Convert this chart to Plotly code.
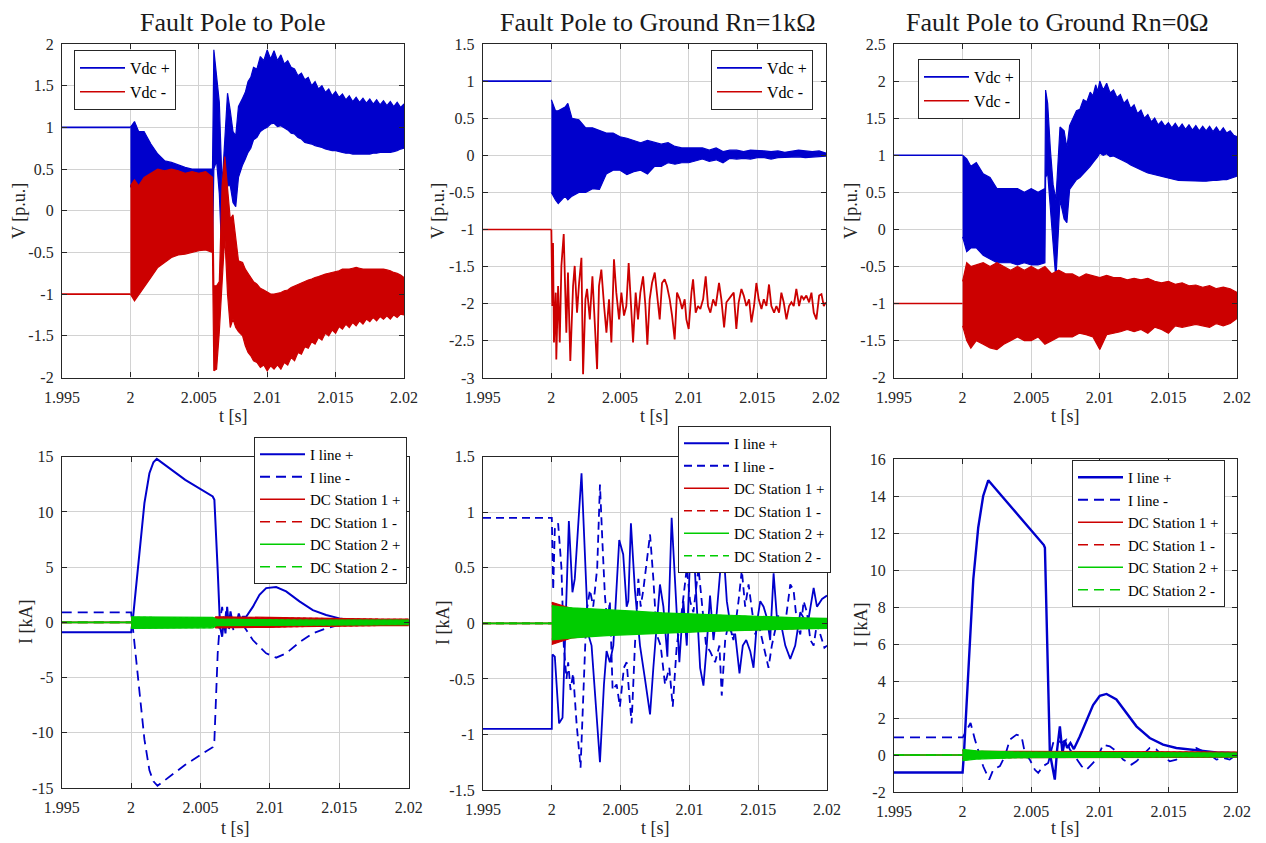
import plotly.graph_objects as go

# ============================ DATA ============================
T0 = 2.0                      # fault instant [s]
T_PRE = 1.995                 # start of the plotted window [s]
X_TICKS = [1.995, 2.0, 2.005, 2.01, 2.015, 2.02]
X_TICK_TEXT = ["1.995", "2", "2.005", "2.01", "2.015", "2.02"]

TITLES = ["Fault Pole to Pole", "Fault Pole to Ground Rn=1kΩ", "Fault Pole to Ground Rn=0Ω"]

Y1_TICKS = [-2, -1.5, -1, -0.5, 0, 0.5, 1, 1.5, 2]
Y1_TEXT = ["-2", "-1.5", "-1", "-0.5", "0", "0.5", "1", "1.5", "2"]
Y2_TICKS = [-3, -2.5, -2, -1.5, -1, -0.5, 0, 0.5, 1, 1.5]
Y2_TEXT = ["-3", "-2.5", "-2", "-1.5", "-1", "-0.5", "0", "0.5", "1", "1.5"]
Y3_TICKS = [-2, -1.5, -1, -0.5, 0, 0.5, 1, 1.5, 2, 2.5]
Y3_TEXT = ["-2", "-1.5", "-1", "-0.5", "0", "0.5", "1", "1.5", "2", "2.5"]
Y4_TICKS = [-15, -10, -5, 0, 5, 10, 15]
Y4_TEXT = ["-15", "-10", "-5", "0", "5", "10", "15"]
Y5_TICKS = [-1.5, -1, -0.5, 0, 0.5, 1, 1.5]
Y5_TEXT = ["-1.5", "-1", "-0.5", "0", "0.5", "1", "1.5"]
Y6_TICKS = [-2, 0, 2, 4, 6, 8, 10, 12, 14, 16]
Y6_TEXT = ["-2", "0", "2", "4", "6", "8", "10", "12", "14", "16"]

# pre-fault steady values
VPOS_PRE = 1.0
VNEG_PRE = -1.0
STATION_PRE = 0.0

# ---- Panel 1 (pole to pole) : envelopes of the dense ripple (ms after fault, upper, lower) [p.u.]
P1_VPOS = [(0, 1.0, 0.3), (0.3, 1.07, 0.2), (0.6, 0.95, 0.05), (1.0, 0.95, -0.1), (1.5, 0.8, -0.3),
           (2.0, 0.68, -0.4), (2.5, 0.6, -0.45), (3.0, 0.58, -0.45), (3.5, 0.55, -0.45), (4.0, 0.52, -0.45),
           (4.5, 0.5, -0.45), (5.0, 0.5, -0.45), (5.5, 0.5, -0.45), (6.0, 0.5, -0.45), (6.1, 1.93, 0.5),
           (6.3, 1.6, 0.6), (6.5, 1.3, 0.2), (6.7, 0.3, -0.6), (6.9, 0.9, -0.3), (7.1, 1.41, 0.3),
           (7.3, 1.2, 0.3), (7.5, 0.95, 0.1), (7.7, 0.9, 0.05), (7.9, 1.25, 0.4), (8.2, 1.35, 0.55),
           (8.4, 1.42, 0.62), (8.6, 1.55, 0.7), (8.8, 1.6, 0.75), (9.0, 1.72, 0.85), (9.25, 1.7, 0.88),
           (9.5, 1.85, 0.95), (9.75, 1.8, 0.98), (10.0, 1.93, 1.0), (10.25, 1.82, 1.04), (10.5, 1.92, 1.05),
           (10.75, 1.8, 1.01), (11.0, 1.87, 1.02), (11.25, 1.76, 0.99), (11.5, 1.8, 0.97), (11.75, 1.72, 0.93),
           (12.0, 1.7, 0.92), (12.25, 1.62, 0.88), (12.5, 1.65, 0.86), (12.75, 1.57, 0.82), (13.0, 1.6, 0.81),
           (13.25, 1.5, 0.8), (13.5, 1.55, 0.78), (13.75, 1.46, 0.77), (14.0, 1.5, 0.76), (14.25, 1.42, 0.74),
           (14.5, 1.46, 0.73), (14.75, 1.38, 0.72), (15.0, 1.43, 0.72), (15.25, 1.36, 0.71), (15.5, 1.4, 0.7),
           (15.75, 1.33, 0.69), (16.0, 1.38, 0.69), (16.25, 1.31, 0.68), (16.5, 1.36, 0.68), (16.75, 1.3, 0.68),
           (17.0, 1.35, 0.68), (17.25, 1.29, 0.68), (17.5, 1.34, 0.68), (17.75, 1.28, 0.69), (18.0, 1.33, 0.69),
           (18.25, 1.27, 0.7), (18.5, 1.32, 0.7), (18.75, 1.26, 0.7), (19.0, 1.31, 0.7), (19.25, 1.25, 0.71),
           (19.5, 1.3, 0.72), (19.75, 1.24, 0.74), (20.0, 1.28, 0.75)]
P1_VNEG = [(0, 0.3, -1.0), (0.3, 0.37, -1.08), (0.6, 0.3, -1.0), (1.0, 0.4, -0.92), (1.5, 0.45, -0.8),
           (2.0, 0.5, -0.68), (2.5, 0.48, -0.62), (3.0, 0.5, -0.56), (3.5, 0.48, -0.53), (4.0, 0.45, -0.52),
           (4.5, 0.47, -0.5), (5.0, 0.45, -0.48), (5.5, 0.47, -0.47), (6.0, 0.4, -0.5), (6.1, -0.9, -1.92),
           (6.3, -0.9, -1.9), (6.5, -0.85, -1.45), (6.7, 0.3, -0.9), (6.9, 0.65, -0.3), (7.1, 0.3, -1.0),
           (7.3, -0.1, -1.4), (7.5, -0.05, -1.3), (7.7, -0.3, -1.4), (7.9, -0.6, -1.45), (8.2, -0.62, -1.5),
           (8.4, -0.7, -1.62), (8.6, -0.75, -1.7), (8.8, -0.8, -1.74), (9.0, -0.85, -1.8), (9.25, -0.88, -1.82),
           (9.5, -0.93, -1.88), (9.75, -0.95, -1.85), (10.0, -0.98, -1.92), (10.25, -1.0, -1.86),
           (10.5, -1.0, -1.9), (10.75, -0.99, -1.85), (11.0, -0.98, -1.9), (11.25, -0.96, -1.82),
           (11.5, -0.95, -1.85), (11.75, -0.92, -1.76), (12.0, -0.9, -1.8), (12.25, -0.88, -1.7),
           (12.5, -0.87, -1.72), (12.75, -0.85, -1.63), (13.0, -0.83, -1.65), (13.25, -0.82, -1.57),
           (13.5, -0.8, -1.6), (13.75, -0.79, -1.52), (14.0, -0.77, -1.55), (14.25, -0.76, -1.47),
           (14.5, -0.75, -1.5), (14.75, -0.74, -1.43), (15.0, -0.73, -1.47), (15.25, -0.72, -1.39),
           (15.5, -0.7, -1.42), (15.75, -0.7, -1.36), (16.0, -0.7, -1.4), (16.25, -0.69, -1.34),
           (16.5, -0.68, -1.38), (16.75, -0.69, -1.32), (17.0, -0.7, -1.36), (17.25, -0.7, -1.3),
           (17.5, -0.7, -1.33), (17.75, -0.7, -1.28), (18.0, -0.7, -1.32), (18.25, -0.7, -1.27),
           (18.5, -0.7, -1.3), (18.75, -0.71, -1.26), (19.0, -0.72, -1.3), (19.25, -0.74, -1.25),
           (19.5, -0.75, -1.28), (19.75, -0.77, -1.24), (20.0, -0.8, -1.25)]

# ---- Panel 2 (pole to ground, Rn = 1 kOhm)
P2_VPOS = [(0, 0.75, -0.5), (0.3, 0.6, -0.6), (0.5, 0.6, -0.65), (1.0, 0.65, -0.55), (1.2, 0.7, -0.6),
           (1.5, 0.5, -0.55), (2.0, 0.48, -0.5), (2.5, 0.37, -0.5), (3.0, 0.37, -0.45), (3.5, 0.33, -0.46),
           (4.0, 0.3, -0.25), (4.5, 0.3, -0.2), (5.0, 0.25, -0.2), (5.5, 0.23, -0.26), (6.0, 0.2, -0.22),
           (6.5, 0.17, -0.2), (7.0, 0.2, -0.25), (7.5, 0.18, -0.15), (8.0, 0.15, -0.15), (8.5, 0.17, -0.1),
           (9.0, 0.12, -0.12), (9.5, 0.1, -0.1), (10.0, 0.1, -0.1), (10.5, 0.1, -0.08), (11.0, 0.1, -0.05),
           (11.5, 0.07, -0.08), (12.0, 0.1, -0.06), (12.5, 0.05, -0.1), (13.0, 0.07, -0.04), (13.5, 0.07, -0.05),
           (14.0, 0.05, -0.04), (14.5, 0.07, -0.05), (15.0, 0.07, -0.03), (15.5, 0.06, -0.03), (16.0, 0.05, -0.05),
           (16.5, 0.06, -0.03), (17.0, 0.04, -0.03), (17.5, 0.06, -0.02), (18.0, 0.07, -0.02), (18.5, 0.06, -0.03),
           (19.0, 0.05, -0.02), (19.5, 0.06, -0.02), (20.0, 0.03, -0.01)]
# Vdc- trace (ms after fault, value) [p.u.]
P2_VNEG = [(0, -1.0), (0.07, -2.03), (0.12, -1.18), (0.19, -2.52), (0.32, -1.85), (0.36, -2.75), (0.49, -1.76),
           (0.61, -2.52), (0.73, -1.49), (0.9, -1.06), (1.09, -2.39), (1.21, -1.58), (1.38, -2.77), (1.58, -1.76),
           (1.7, -1.49), (1.87, -2.12), (2.02, -1.72), (2.19, -1.38), (2.31, -2.95), (2.48, -1.94), (2.6, -1.8),
           (2.8, -2.21), (2.99, -1.63), (3.16, -2.3), (3.33, -2.88), (3.47, -1.76), (3.64, -1.54), (3.84, -2.03),
           (4.01, -2.39), (4.2, -1.94), (4.37, -2.52), (4.56, -1.4), (4.73, -1.85), (4.93, -2.21), (5.1, -1.85),
           (5.29, -2.16), (5.46, -2.03), (5.63, -1.45), (5.78, -1.94), (5.95, -2.52), (6.14, -1.85), (6.31, -2.21),
           (6.48, -1.85), (6.68, -1.63), (6.85, -2.03), (6.99, -2.55), (7.16, -1.94), (7.33, -1.72), (7.53, -1.58),
           (7.7, -1.85), (7.89, -2.21), (8.06, -1.72), (8.25, -1.67), (8.42, -1.76), (8.62, -1.94), (8.79, -2.16),
           (8.98, -2.48), (9.15, -1.85), (9.35, -1.94), (9.52, -2.07), (9.71, -1.94), (9.83, -2.21), (10.0, -2.34),
           (10.2, -1.85), (10.32, -1.67), (10.51, -2.12), (10.68, -2.03), (10.85, -2.07), (11.05, -1.94),
           (11.24, -1.63), (11.41, -2.03), (11.58, -2.12), (11.78, -1.94), (11.97, -2.03), (12.21, -1.72),
           (12.38, -1.94), (12.58, -2.32), (12.75, -1.98), (12.94, -1.94), (13.11, -1.89), (13.28, -1.85),
           (13.47, -2.34), (13.64, -1.98), (13.84, -1.8), (14.01, -1.89), (14.2, -2.03), (14.4, -1.94),
           (14.57, -2.25), (14.76, -2.03), (14.93, -1.72), (15.1, -1.94), (15.3, -2.07), (15.47, -1.94),
           (15.66, -2.03), (15.85, -1.74), (16.02, -2.03), (16.22, -2.12), (16.39, -2.03), (16.58, -2.12),
           (16.75, -1.85), (16.92, -1.98), (17.12, -2.21), (17.31, -2.03), (17.48, -1.98), (17.65, -2.03),
           (17.84, -1.8), (18.04, -2.03), (18.21, -1.89), (18.38, -1.94), (18.57, -1.89), (18.77, -1.98),
           (18.94, -1.85), (19.11, -2.12), (19.3, -2.21), (19.5, -1.89), (19.67, -1.87), (19.84, -2.03),
           (19.98, -1.98)]

# ---- Panel 3 (pole to ground, Rn = 0 Ohm)
P3_VPOS = [(0, 1.0, -0.1), (0.3, 0.95, -0.3), (0.6, 0.85, -0.25), (1.0, 0.9, -0.25), (1.5, 0.75, -0.35),
           (2.0, 0.7, -0.4), (2.5, 0.55, -0.45), (3.0, 0.55, -0.45), (3.5, 0.55, -0.45), (4.0, 0.55, -0.48),
           (4.5, 0.5, -0.45), (5.0, 0.55, -0.48), (5.5, 0.5, -0.48), (6.0, 0.55, -0.45), (6.05, 1.88, 0.7),
           (6.2, 1.7, 0.76), (6.4, 1.07, 0.31), (6.6, 0.6, -0.2), (6.8, 0.4, -0.68), (6.95, 0.9, -0.2),
           (7.1, 1.38, 0.4), (7.4, 1.33, 0.14), (7.6, 1.1, 0.09), (7.8, 1.4, 0.54), (8.3, 1.6, 0.67),
           (8.55, 1.62, 0.7), (8.8, 1.75, 0.75), (9.05, 1.72, 0.8), (9.3, 1.85, 0.85), (9.5, 1.8, 0.9),
           (9.7, 1.95, 0.95), (9.85, 1.86, 0.98), (10.0, 2.0, 1.03), (10.25, 1.88, 1.0), (10.5, 1.97, 1.02),
           (10.75, 1.84, 0.98), (11.0, 1.88, 0.99), (11.25, 1.78, 0.96), (11.5, 1.82, 0.95), (11.75, 1.7, 0.92),
           (12.0, 1.75, 0.9), (12.25, 1.63, 0.87), (12.5, 1.68, 0.85), (12.75, 1.56, 0.82), (13.0, 1.61, 0.8),
           (13.25, 1.5, 0.78), (13.5, 1.55, 0.76), (13.75, 1.45, 0.74), (14.0, 1.5, 0.73), (14.25, 1.41, 0.72),
           (14.5, 1.46, 0.71), (14.75, 1.39, 0.7), (15.0, 1.44, 0.69), (15.25, 1.37, 0.68), (15.5, 1.43, 0.67),
           (15.75, 1.36, 0.66), (16.0, 1.42, 0.66), (16.25, 1.35, 0.65), (16.5, 1.41, 0.65), (16.75, 1.34, 0.65),
           (17.0, 1.4, 0.65), (17.25, 1.33, 0.65), (17.5, 1.39, 0.65), (17.75, 1.33, 0.65), (18.0, 1.39, 0.65),
           (18.25, 1.32, 0.66), (18.5, 1.38, 0.66), (18.75, 1.31, 0.66), (19.0, 1.37, 0.67), (19.25, 1.3, 0.67),
           (19.5, 1.33, 0.68), (19.75, 1.27, 0.7), (20.0, 1.25, 0.72)]
P3_VNEG = [(0, -0.7, -1.3), (0.3, -0.45, -1.5), (0.6, -0.5, -1.6), (1.0, -0.48, -1.5), (1.5, -0.45, -1.55),
           (2.0, -0.5, -1.6), (2.5, -0.45, -1.62), (3.0, -0.5, -1.55), (3.5, -0.55, -1.5), (4.0, -0.5, -1.45),
           (4.5, -0.55, -1.5), (5.0, -0.5, -1.5), (5.5, -0.55, -1.45), (6.0, -0.5, -1.55), (6.5, -0.6, -1.5),
           (7.0, -0.55, -1.45), (7.5, -0.6, -1.45), (8.0, -0.6, -1.45), (8.5, -0.65, -1.4), (9.0, -0.6, -1.42),
           (9.5, -0.62, -1.45), (10.0, -0.65, -1.62), (10.5, -0.62, -1.42), (11.0, -0.65, -1.4), (11.5, -0.65, -1.38),
           (12.0, -0.68, -1.35), (12.5, -0.66, -1.38), (13.0, -0.68, -1.35), (13.5, -0.66, -1.4), (14.0, -0.7, -1.32),
           (14.5, -0.72, -1.35), (15.0, -0.7, -1.4), (15.5, -0.74, -1.3), (16.0, -0.72, -1.32), (16.5, -0.76, -1.3),
           (17.0, -0.75, -1.28), (17.5, -0.78, -1.3), (18.0, -0.76, -1.32), (18.5, -0.8, -1.27), (19.0, -0.78, -1.3),
           (19.5, -0.8, -1.27), (20.0, -0.85, -1.2)]

# ---- Panel 4 currents [kA] (ms after fault, value); negative ms = pre-fault
P4_ILINE_POS = [(-5, -0.9), (0, -0.9), (0.12, 0.2), (0.6, 6.2), (0.96, 10.8), (1.32, 13.5), (1.61, 14.5),
                (1.85, 14.8), (3.9, 12.9), (5.88, 11.4), (6.0, 11.1), (6.24, 4.7), (6.41, -0.4), (6.56, -1.3),
                (6.68, 0.2), (6.8, -1.0), (6.92, 1.4), (7.04, -0.4), (7.16, 1.0), (7.32, -0.1), (7.47, 0.4),
                (7.61, 0.0), (7.76, 0.8), (7.9, 0.2), (8.05, 0.5), (8.29, 0.5), (8.77, 1.4), (9.25, 2.5),
                (9.73, 3.1), (10.45, 3.2), (11.17, 2.8), (12.13, 1.9), (13.09, 1.1), (14.05, 0.66), (15.01, 0.36),
                (15.97, 0.2), (16.93, 0.1), (20.0, 0.05)]
P4_ILINE_NEG = [(-5, 0.9), (0, 0.9), (0.12, -0.4), (0.6, -6.4), (0.96, -10.6), (1.32, -13.4), (1.61, -14.4),
                (1.9, -14.8), (3.9, -12.9), (5.88, -11.3), (6.0, -10.7), (6.24, -2.8), (6.41, 0.2), (6.56, 1.4),
                (6.73, -0.4), (6.85, 1.1), (7.04, -0.7), (7.2, 0.5), (7.37, -0.7), (7.56, 0.2), (7.8, -0.5),
                (8.05, -0.2), (8.77, -1.6), (9.73, -2.8), (10.45, -3.2), (11.17, -2.8), (12.13, -1.8),
                (13.09, -1.0), (14.05, -0.54), (15.01, -0.24), (15.97, -0.1), (20.0, -0.03)]
# station current ripple envelopes (ms after fault, upper, lower) [kA]
P4_ST1_POS = [(0, 0.5, -0.5), (0.3, 0.2, -0.2), (2, 0.2, -0.2), (4, 0.2, -0.2), (5.9, 0.2, -0.2), (6.1, 0.5, -0.5),
              (8, 0.5, -0.5), (10, 0.45, -0.45), (12, 0.4, -0.4), (14, 0.35, -0.35), (16, 0.32, -0.32),
              (18, 0.3, -0.3), (20, 0.3, -0.3)]
P4_ST1_NEG = [(0, 0.45, -0.45), (0.3, 0.2, -0.2), (2, 0.2, -0.2), (4, 0.2, -0.2), (5.9, 0.2, -0.2), (6.1, 0.45, -0.45),
              (8, 0.45, -0.45), (10, 0.42, -0.42), (12, 0.38, -0.38), (14, 0.33, -0.33), (16, 0.3, -0.3),
              (18, 0.28, -0.28), (20, 0.28, -0.28)]
P4_ST2_POS = [(0, 0.5, -0.55), (0.3, 0.5, -0.55), (2, 0.45, -0.5), (4, 0.45, -0.5), (5.9, 0.45, -0.5), (6.1, 0.3, -0.3),
              (8, 0.25, -0.3), (10, 0.22, -0.28), (12, 0.2, -0.25), (14, 0.2, -0.25), (16, 0.2, -0.22),
              (18, 0.2, -0.22), (20, 0.2, -0.2)]
P4_ST2_NEG = [(0, 0.45, -0.5), (0.3, 0.45, -0.5), (2, 0.42, -0.47), (4, 0.42, -0.47), (5.9, 0.42, -0.47),
              (6.1, 0.28, -0.28), (8, 0.24, -0.28), (10, 0.2, -0.26), (12, 0.18, -0.23), (14, 0.18, -0.23),
              (16, 0.18, -0.2), (18, 0.18, -0.2), (20, 0.18, -0.18)]

# ---- Panel 5 currents [kA]
P5_ILINE_POS = [(-5, -0.95), (0, -0.95), (0.05, -0.28), (0.22, -0.3), (0.53, -0.9), (0.78, -0.85), (1.24, 0.92),
                (1.5, 0.28), (1.67, 0.4), (2.16, 1.35), (2.65, -0.1), (2.89, -0.2), (3.5, -1.25), (3.79, -0.55),
                (3.98, -0.25), (4.22, -0.35), (4.47, -0.2), (4.9, 0.75), (5.19, 0.62), (5.44, 0.15), (5.56, 0.2),
                (5.75, 0.9), (6.04, 0.3), (6.41, -0.2), (6.77, -0.5), (7.14, -0.82), (7.38, -0.4), (7.67, 0.1),
                (7.86, 0.35), (8.11, 0.15), (8.4, -0.3), (8.71, 0.95), (9.03, 0.2), (9.27, -0.35), (9.56, 0.2),
                (9.81, -0.2), (10.17, 1.0), (10.49, 0.3), (10.78, -0.4), (11.02, -0.56), (11.26, -0.2),
                (11.5, 0.25), (11.75, -0.15), (11.99, 0.1), (12.43, 0.75), (12.72, 0.2), (13.08, -0.1),
                (13.33, -0.1), (13.64, -0.45), (13.88, -0.2), (14.13, -0.15), (14.42, -0.25), (14.66, -0.4),
                (14.9, 0.0), (15.15, 0.2), (15.39, 0.15), (15.63, 0.05), (15.87, -0.15), (16.12, 0.45),
                (16.36, 0.05), (16.65, 0.0), (16.97, -0.2), (17.33, -0.32), (17.69, -0.2), (18.06, 0.1),
                (18.3, 0.05), (18.54, -0.05), (19.03, 0.32), (19.27, 0.15), (19.64, 0.22), (20.0, 0.25)]
P5_ILINE_NEG = [(-5, 0.95), (0, 0.95), (0.1, 0.3), (0.22, 0.85), (0.46, 0.9), (0.7, 0.5), (0.87, -0.2), (1.07, -0.5),
                (1.19, -0.35), (1.36, -0.6), (1.55, -0.45), (1.8, -0.9), (2.09, -1.3), (2.33, -0.5), (2.52, 0.1),
                (2.77, 0.3), (3.01, 0.15), (3.3, 0.5), (3.5, 1.25), (3.69, 0.7), (3.86, 0.25), (4.03, 0.0),
                (4.22, 0.2), (4.42, -0.6), (4.71, -0.55), (4.95, -0.75), (5.24, -0.4), (5.44, -0.35), (5.8, -0.9),
                (6.04, -0.2), (6.29, 0.4), (6.46, 0.15), (6.65, 0.3), (7.14, 0.8), (7.38, 0.4), (7.62, -0.1),
                (7.91, -0.2), (8.23, -0.55), (8.54, -0.4), (8.79, -0.75), (9.08, -0.2), (9.44, 0.1), (9.81, 0.5),
                (10.05, 0.2), (10.29, 0.1), (10.66, 0.5), (10.9, 0.2), (11.21, -0.2), (11.5, -0.25), (11.87, -0.35),
                (12.18, -0.2), (12.35, -0.65), (12.6, -0.15), (12.84, 0.0), (13.2, -0.15), (13.57, 0.2), (13.81, 0.48),
                (14.05, 0.15), (14.3, 0.35), (14.54, 0.1), (14.78, -0.1), (15.02, 0.0), (15.39, -0.2), (15.75, -0.4),
                (15.99, -0.2), (16.24, -0.05), (16.48, 0.08), (16.72, -0.05), (16.97, 0.0), (17.33, 0.35),
                (17.57, 0.3), (17.82, 0.0), (18.06, -0.1), (18.3, 0.2), (18.54, 0.1), (18.79, -0.15), (19.03, -0.2),
                (19.27, 0.0), (19.51, -0.1), (19.81, -0.22), (20.0, -0.2)]
P5_ST1_POS = [(0, 0.19, -0.19), (0.5, 0.17, -0.17), (1.5, 0.13, -0.13), (4, 0.1, -0.1), (6, 0.09, -0.09),
              (8, 0.085, -0.085), (10, 0.075, -0.075), (12, 0.065, -0.065), (14, 0.055, -0.055), (16, 0.05, -0.05),
              (18, 0.045, -0.045), (20, 0.04, -0.04)]
P5_ST1_NEG = [(0, 0.18, -0.18), (0.5, 0.16, -0.16), (1.5, 0.12, -0.12), (4, 0.1, -0.1), (6, 0.09, -0.09),
              (8, 0.08, -0.08), (10, 0.07, -0.07), (12, 0.06, -0.06), (14, 0.055, -0.055), (16, 0.05, -0.05),
              (18, 0.045, -0.045), (20, 0.04, -0.04)]
P5_ST2_POS = [(0, 0.16, -0.15), (0.5, 0.15, -0.14), (1.5, 0.14, -0.13), (4, 0.12, -0.11), (6, 0.11, -0.1),
              (8, 0.095, -0.09), (10, 0.085, -0.08), (12, 0.075, -0.07), (14, 0.065, -0.06), (16, 0.055, -0.055),
              (18, 0.05, -0.05), (20, 0.045, -0.045)]
P5_ST2_NEG = [(0, 0.15, -0.14), (0.5, 0.14, -0.13), (1.5, 0.13, -0.12), (4, 0.11, -0.1), (6, 0.1, -0.09),
              (8, 0.09, -0.085), (10, 0.08, -0.075), (12, 0.07, -0.065), (14, 0.06, -0.055), (16, 0.05, -0.05),
              (18, 0.045, -0.045), (20, 0.04, -0.04)]

# ---- Panel 6 currents [kA]
P6_ILINE_POS = [(-5, -0.95), (0, -0.95), (0.1, 0.1), (0.41, 4.6), (0.78, 9.5), (1.14, 12.3), (1.5, 14.0),
                (1.87, 14.85), (5.92, 11.35), (6.0, 11.2), (6.17, 5.5), (6.36, 0.1), (6.72, -1.33), (6.89, 0.29),
                (7.09, 1.55), (7.28, 0.1), (7.45, 0.8), (7.62, 0.38), (7.86, 0.65), (8.11, 0.32), (8.54, 1.0),
                (9.03, 1.9), (9.51, 2.7), (10.0, 3.2), (10.49, 3.3), (11.21, 3.0), (11.94, 2.27), (12.67, 1.55),
                (13.64, 0.92), (14.61, 0.56), (15.58, 0.38), (16.55, 0.29), (17.52, 0.2), (18.5, 0.14), (20.0, 0.1)]
P6_ILINE_NEG = [(-5, 0.95), (0, 0.95), (0.05, 1.0), (0.58, 1.73), (0.9, 0.83), (1.5, -0.61), (1.94, -1.33),
                (2.23, -0.8), (2.72, -0.6), (3.08, -0.07), (3.45, 0.83), (3.93, 1.1), (4.3, 1.0), (4.54, 0.1),
                (4.9, -0.25), (5.27, -0.8), (5.51, -0.97), (5.87, -0.6), (6.24, -0.43), (6.6, 0.65), (6.84, 0.83),
                (7.21, 0.65), (7.57, 0.83), (7.82, 0.29), (8.18, -0.07), (8.67, -0.6), (9.03, -0.8), (9.51, -0.43),
                (9.88, -0.07), (10.24, 0.56), (10.73, 0.47), (11.21, 0.2), (11.7, -0.25), (12.31, -0.52),
                (12.67, -0.34), (13.16, 0.02), (13.64, 0.38), (14.13, 0.29), (14.61, -0.07), (15.1, -0.34),
                (15.58, -0.25), (16.07, 0.02), (16.55, 0.1), (17.04, 0.38), (17.52, 0.2), (18.01, 0.02),
                (18.5, -0.25), (18.98, -0.16), (19.47, -0.25), (19.95, 0.02)]
P6_ST1_POS = [(0, 0.25, -0.2), (1, 0.2, -0.15), (4, 0.2, -0.15), (8, 0.2, -0.15), (12, 0.18, -0.14),
              (16, 0.17, -0.13), (20, 0.15, -0.12)]
P6_ST1_NEG = [(0, 0.24, -0.19), (1, 0.19, -0.14), (4, 0.19, -0.14), (8, 0.19, -0.14), (12, 0.17, -0.13),
              (16, 0.16, -0.12), (20, 0.14, -0.11)]
P6_ST2_POS = [(0, 0.3, -0.3), (1, 0.22, -0.22), (4, 0.16, -0.15), (8, 0.13, -0.12), (12, 0.12, -0.11),
              (16, 0.11, -0.1), (20, 0.1, -0.1)]
P6_ST2_NEG = [(0, 0.28, -0.28), (1, 0.2, -0.2), (4, 0.15, -0.14), (8, 0.12, -0.11), (12, 0.11, -0.1),
              (16, 0.1, -0.09), (20, 0.09, -0.09)]

# ============================ STYLE ============================
BLUE = "#0000CC"
RED = "#CC0000"
GREEN = "#00CC00"
AXC = "#262626"
GRID = "#d2d2d2"
SERIF = "Liberation Serif, Times New Roman, serif"
W, H = 1266, 843


def px_x(p):
    return p / W


def px_y(p):
    return 1 - p / H


def ms_to_t(ms):
    return T0 + ms / 1000.0


fig = go.Figure()


def add_band(rows, color, ax, legend, dash=None, fill=True):
    t = [ms_to_t(r[0]) for r in rows]
    hi = [r[1] for r in rows]
    lo = [r[2] for r in rows]
    fig.add_trace(go.Scatter(
        x=t + t[::-1], y=hi + lo[::-1], mode="lines",
        fill="toself" if fill else "none", fillcolor=color,
        line=dict(color=color, width=1.2, dash=dash or "solid"),
        xaxis="x" + ax, yaxis="y" + ax, showlegend=False, legend=legend, hoverinfo="skip"))


def add_line(x, y, color, name, ax, legend, dash="solid", width=1.6, showlegend=True):
    fig.add_trace(go.Scatter(
        x=x, y=y, mode="lines", name=name, line=dict(color=color, width=width, dash=dash),
        xaxis="x" + ax, yaxis="y" + ax, legend=legend, showlegend=showlegend))


def add_pre(value, color, name, ax, legend, dash="solid", width=1.6):
    add_line([T_PRE, T0], [value, value], color, name, ax, legend, dash=dash, width=width)


def add_series(rows, color, name, ax, legend, dash="solid", width=1.6):
    add_line([ms_to_t(r[0]) for r in rows], [r[1] for r in rows], color, name, ax, legend, dash=dash, width=width)


# ---- top row: voltages
add_pre(VPOS_PRE, BLUE, "Vdc +", "", "legend")
add_band(P1_VPOS, BLUE, "", "legend")
add_pre(VNEG_PRE, RED, "Vdc -", "", "legend")
add_band(P1_VNEG, RED, "", "legend")

add_pre(VPOS_PRE, BLUE, "Vdc +", "2", "legend2")
add_band(P2_VPOS, BLUE, "2", "legend2")
add_pre(VNEG_PRE, RED, "Vdc -", "2", "legend2")
add_line([ms_to_t(r[0]) for r in P2_VNEG], [r[1] for r in P2_VNEG], RED, "Vdc -", "2", "legend2",
         width=1.8, showlegend=False)

add_pre(VPOS_PRE, BLUE, "Vdc +", "3", "legend3")
add_band(P3_VPOS, BLUE, "3", "legend3")
add_pre(VNEG_PRE, RED, "Vdc -", "3", "legend3")
add_band(P3_VNEG, RED, "3", "legend3")

# ---- bottom row: currents
DASH_A = "10px,6px"
DASH_B = "8px,5px"
panels = [
    ("4", "legend4", P4_ILINE_POS, P4_ILINE_NEG, P4_ST1_POS, P4_ST1_NEG, P4_ST2_POS, P4_ST2_NEG, DASH_A, 2.0),
    ("5", "legend5", P5_ILINE_POS, P5_ILINE_NEG, P5_ST1_POS, P5_ST1_NEG, P5_ST2_POS, P5_ST2_NEG, DASH_B, 1.8),
    ("6", "legend6", P6_ILINE_POS, P6_ILINE_NEG, P6_ST1_POS, P6_ST1_NEG, P6_ST2_POS, P6_ST2_NEG, DASH_A, 2.4),
]
for ax, lg, ip, ineg, s1p, s1n, s2p, s2n, dsh, lw in panels:
    add_series(ip, BLUE, "I line +", ax, lg, width=lw)
    add_series(ineg, BLUE, "I line -", ax, lg, dash=dsh, width=1.8)
    add_pre(STATION_PRE, RED, "DC Station 1 +", ax, lg)
    add_band(s1p, RED, ax, lg)
    add_pre(STATION_PRE, RED, "DC Station 1 -", ax, lg, dash=dsh)
    add_band(s1n, RED, ax, lg, dash="3px,3px", fill=False)
    add_pre(STATION_PRE, GREEN, "DC Station 2 +", ax, lg)
    add_band(s2p, GREEN, ax, lg)
    add_pre(STATION_PRE, GREEN, "DC Station 2 -", ax, lg, dash=dsh)
    add_band(s2n, GREEN, ax, lg, dash="3px,3px", fill=False)

# ============================ LAYOUT ============================
tickfont = dict(family=SERIF, size=16, color=AXC)


def xax(x0, x1, anchor):
    return dict(domain=[px_x(x0), px_x(x1)], anchor=anchor, range=[T_PRE, 2.02], automargin=False,
                tickmode="array", tickvals=X_TICKS, ticktext=X_TICK_TEXT,
                ticks="inside", ticklen=5, tickwidth=1, tickcolor=AXC,
                showline=True, linecolor=AXC, linewidth=1.2, mirror="ticks",
                showgrid=True, gridcolor=GRID, gridwidth=1, zeroline=False,
                tickfont=tickfont, ticklabelstandoff=5)


def yax(y_top, y_bot, anchor, rng, vals, text):
    return dict(domain=[px_y(y_bot), px_y(y_top)], anchor=anchor, range=rng, automargin=False,
                tickmode="array", tickvals=vals, ticktext=text,
                ticks="inside", ticklen=5, tickwidth=1, tickcolor=AXC,
                showline=True, linecolor=AXC, linewidth=1.2, mirror="ticks",
                showgrid=True, gridcolor=GRID, gridwidth=1, zeroline=False,
                tickfont=tickfont, ticklabelstandoff=4)


def legend_box(x, y, xanchor, yanchor, size):
    return dict(x=x, y=y, xanchor=xanchor, yanchor=yanchor, xref="paper", yref="paper",
                bgcolor="white", bordercolor=AXC, borderwidth=1,
                font=dict(family=SERIF, size=size, color="black"),
                itemwidth=45, tracegroupgap=0, traceorder="normal")


annotations = []
for cx, txt in zip([233, 658, 1057], TITLES):
    annotations.append(dict(text=txt, x=px_x(cx), y=px_y(22), xref="paper", yref="paper",
                            showarrow=False, xanchor="center", yanchor="middle",
                            font=dict(family=SERIF, size=26, color="#1a1a1a")))
for cx in [233, 654, 1065]:
    annotations.append(dict(text="t [s]", x=px_x(cx), y=px_y(416), xref="paper", yref="paper",
                            showarrow=False, xanchor="center", yanchor="middle",
                            font=dict(family=SERIF, size=18, color=AXC)))
for cx in [235, 655, 1065]:
    annotations.append(dict(text="t [s]", x=px_x(cx), y=px_y(828), xref="paper", yref="paper",
                            showarrow=False, xanchor="center", yanchor="middle",
                            font=dict(family=SERIF, size=18, color=AXC)))
for cx in [19, 438, 851]:
    annotations.append(dict(text="V [p.u.]", x=px_x(cx), y=px_y(211), xref="paper", yref="paper",
                            showarrow=False, xanchor="center", yanchor="middle", textangle=-90,
                            font=dict(family=SERIF, size=18, color=AXC)))
for cx, cy in [(26, 622), (443, 623), (861, 625)]:
    annotations.append(dict(text="I [kA]", x=px_x(cx), y=px_y(cy), xref="paper", yref="paper",
                            showarrow=False, xanchor="center", yanchor="middle", textangle=-90,
                            font=dict(family=SERIF, size=18, color=AXC)))

fig.update_layout(
    width=W, height=H, autosize=False,
    margin=dict(l=0, r=0, t=0, b=0, pad=0, autoexpand=False),
    paper_bgcolor="white", plot_bgcolor="white",
    xaxis=xax(62, 404, "y"), yaxis=yax(44, 377.5, "x", [-2, 2], Y1_TICKS, Y1_TEXT),
    xaxis2=xax(482.7, 826, "y2"), yaxis2=yax(44, 378, "x2", [-3, 1.5], Y2_TICKS, Y2_TEXT),
    xaxis3=xax(894, 1237, "y3"), yaxis3=yax(44, 377.7, "x3", [-2, 2.5], Y3_TICKS, Y3_TEXT),
    xaxis4=xax(61.7, 408.7, "y4"), yaxis4=yax(456.7, 788, "x4", [-15, 15], Y4_TICKS, Y4_TEXT),
    xaxis5=xax(483, 827, "y5"), yaxis5=yax(456.7, 790, "x5", [-1.5, 1.5], Y5_TICKS, Y5_TEXT),
    xaxis6=xax(894, 1237, "y6"), yaxis6=yax(459, 792, "x6", [-2, 16], Y6_TICKS, Y6_TEXT),
    legend=legend_box(px_x(74), px_y(50), "left", "top", 16),
    legend2=legend_box(px_x(813), px_y(50), "right", "top", 16),
    legend3=legend_box(px_x(918), px_y(59), "left", "top", 16),
    legend4=legend_box(px_x(407), px_y(437), "right", "top", 15),
    legend5=legend_box(px_x(831), px_y(426), "right", "top", 15),
    legend6=legend_box(px_x(1225), px_y(460), "right", "top", 15),
    annotations=annotations,
    showlegend=True,
)

fig.write_html(
    "out.html",
    post_script="document.body.style.margin='0';document.body.style.padding='0';"
                "document.documentElement.style.margin='0';document.body.style.overflow='hidden';",
)
